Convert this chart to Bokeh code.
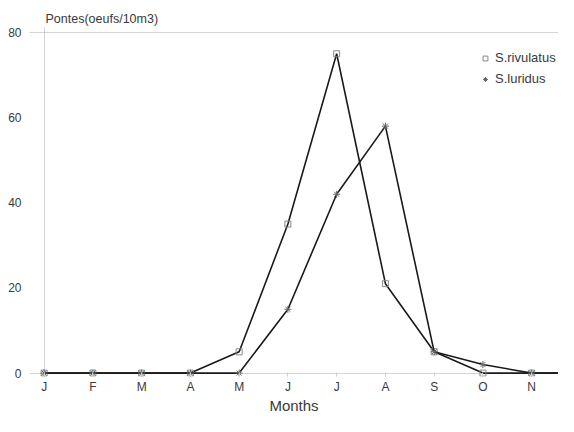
from bokeh.plotting import figure
from bokeh.models import Range1d, FixedTicker, Legend, LegendItem, Title
from bokeh.embed import file_html
from bokeh.resources import INLINE

months = ["J", "F", "M", "A", "M", "J", "J", "A", "S", "O", "N", "D"]
month_idx = list(range(12))
rivulatus = [0, 0, 0, 0, 5, 35, 75, 21, 5, 0, 0, 0]
luridus = [0, 0, 0, 0, 0, 15, 42, 58, 5, 2, 0, 0]
y_ticks = [0, 20, 40, 60, 80]

FONT = "Liberation Sans"
TXT = "#3a3a3a"

p = figure(width=558, height=416, output_backend="svg", toolbar_location=None,
           x_range=Range1d(-0.3, 10.55), y_range=Range1d(-0.8, 81.4),
           min_border_left=29, min_border_right=0, min_border_top=26, min_border_bottom=10)
p.outline_line_color = None
p.background_fill_color = "white"

# title (y-axis caption) above the plot
p.title = Title(text="Pontes(oeufs/10m3)", text_font=FONT, text_font_size="12.5px",
                text_font_style="normal", text_color=TXT, align="left",
                offset=16, standoff=2)

# axes
p.xaxis.ticker = FixedTicker(ticks=month_idx[:11])
p.xaxis.major_label_overrides = {i: m for i, m in enumerate(months)}
p.xaxis.axis_line_color = None
p.xaxis.major_tick_in = 4
p.xaxis.major_tick_out = 0
p.xaxis.major_tick_line_color = "#d0d0d0"
p.xaxis.minor_tick_line_color = None
p.xaxis.major_label_standoff = 3
p.xaxis.major_label_text_font = FONT
p.xaxis.major_label_text_font_size = "12px"
p.xaxis.major_label_text_color = TXT
p.xaxis.axis_label = "Months"
p.xaxis.axis_label_text_font = FONT
p.xaxis.axis_label_text_font_style = "normal"
p.xaxis.axis_label_text_font_size = "15px"
p.xaxis.axis_label_text_color = TXT
p.xaxis.axis_label_standoff = 0

p.yaxis.ticker = FixedTicker(ticks=y_ticks)
p.yaxis.axis_line_color = None
p.yaxis.major_tick_line_color = None
p.yaxis.minor_tick_line_color = None
p.yaxis.major_label_standoff = 2
p.yaxis.major_label_text_font = FONT
p.yaxis.major_label_text_font_size = "12px"
p.yaxis.major_label_text_color = TXT

p.ygrid.ticker = FixedTicker(ticks=[0, 80])
p.ygrid.grid_line_color = "#aaaaaa"
p.ygrid.grid_line_dash = "1 1"
p.xgrid.ticker = FixedTicker(ticks=[0])
p.xgrid.grid_line_color = "#aaaaaa"
p.xgrid.grid_line_dash = "1 1"

# series
l1 = p.line(month_idx, rivulatus, line_color="#1a1a1a", line_width=1.6)
s1 = p.scatter(month_idx, rivulatus, marker="square", size=6, fill_color=None,
               line_color="#888888", line_width=1)
l2 = p.line(month_idx, luridus, line_color="#1a1a1a", line_width=1.6)
s2 = p.scatter(month_idx, luridus, marker="asterisk", size=7,
               line_color="#666666", line_width=1)

legend = Legend(items=[LegendItem(label="S.rivulatus", renderers=[s1]),
                       LegendItem(label="S.luridus", renderers=[s2])],
                location=(450, 290), border_line_color=None,
                background_fill_alpha=0, label_text_font=FONT,
                label_text_font_size="13px", label_text_color=TXT,
                glyph_width=12, glyph_height=12, spacing=6, padding=0, margin=0,
                label_standoff=4)
p.add_layout(legend)

open("out.html", "w").write(file_html(p, INLINE))
